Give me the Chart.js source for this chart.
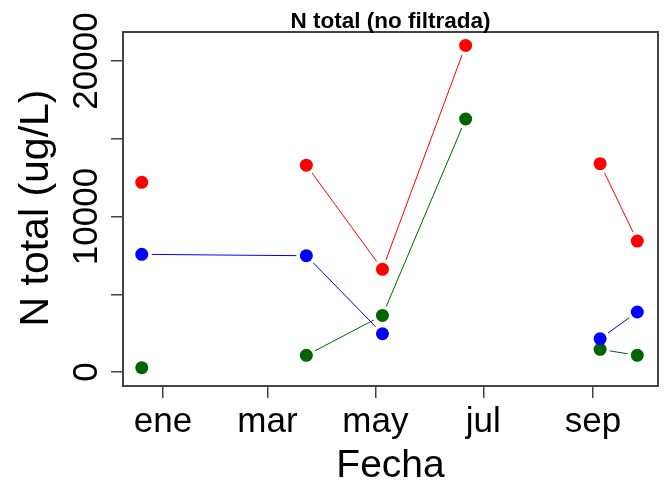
<!DOCTYPE html>
<html>
<head>
<meta charset="utf-8">
<script src="https://cdn.jsdelivr.net/npm/chart.js@4"></script>
<style>
  html,body{margin:0;padding:0;background:#fff;}
  #c{display:block;}
</style>
</head>
<body>
<canvas id="c" width="666" height="484"></canvas>
<script>
'use strict';
/* N total (no filtrada) — R base-plot look, type="b" */
const FONT = '"Liberation Sans", Arial, sans-serif';

// sampling dates as day-of-year (0 = 1 ene); index 1 and 5 are unmarked vertices / gaps
const days   = [-12, 34, 81, 124, 171, 210, 247, 268];
const marked = [true, false, true, true, true, false, true, true];
const red    = [12200, null, 13300, 6600, 21000, null, 13400, 8420];
const green  = [280, null, 1070, 3640, 16270, null, 1460, 1070];
const blue   = [7570, 7520, 7480, 2460, null, null, 2140, 3860];

// axis ticks
const monthDays   = [0, 59, 120, 181, 243];
const monthLabels = ['ene', 'mar', 'may', 'jul', 'sep'];
const yTicks      = [0, 5000, 10000, 15000, 20000];
const yLabels     = ['0', '', '10000', '', '20000'];

const xy = arr => days.map((d, i) => ({x: d, y: arr[i]}));

function lineSet(data, color, order){
  return {
    data: xy(data), order, gapOf: data,
    borderColor: color, borderWidth: 1, backgroundColor: color,
    pointRadius: 0, pointHoverRadius: 0,
    spanGaps: false, tension: 0, fill: false
  };
}
function pointSet(data, color, order){
  return {
    data: xy(data), order, showLine: false,
    borderColor: color, backgroundColor: color,
    pointBackgroundColor: color, pointBorderWidth: 0,
    pointRadius: c => marked[c.dataIndex] ? 6.5 : 0,
    pointHoverRadius: c => marked[c.dataIndex] ? 6.5 : 0
  };
}

const AX = '#444';
const GAP = 10;

// cut the line around its own markers, like R's type="b"
const gapClip = {
  id: 'gapClip',
  beforeDatasetDraw(chart, args){
    const ds = chart.data.datasets[args.index];
    if (!ds.gapOf) return;
    const g = chart.ctx, a = chart.chartArea;
    const xs = chart.scales.x, ys = chart.scales.y;
    g.save();
    g.beginPath();
    g.rect(0, 0, chart.width, chart.height);
    ds.gapOf.forEach((v, i) => {
      if (v == null || !marked[i]) return;
      const px = xs.getPixelForValue(days[i]), py = ys.getPixelForValue(v);
      g.moveTo(px + GAP, py);
      g.arc(px, py, GAP, 0, Math.PI * 2);
    });
    g.clip('evenodd');
  },
  afterDatasetDraw(chart, args){
    if (chart.data.datasets[args.index].gapOf) chart.ctx.restore();
  }
};

const rText = {
  id: 'rText',
  afterDraw(chart){
    const g = chart.ctx, a = chart.chartArea;
    const xs = chart.scales.x, ys = chart.scales.y;
    g.save();
    g.strokeStyle = AX; g.lineWidth = 2;
    g.strokeRect(a.left, a.top, a.right - a.left, a.bottom - a.top);
    g.fillStyle = '#000';
    g.font = 'bold 22.5px ' + FONT;
    g.textAlign = 'center'; g.textBaseline = 'alphabetic';
    g.fillText('N total (no filtrada)', (a.left + a.right) / 2, 28);
    g.font = '35px ' + FONT;
    monthDays.forEach((d, i) => g.fillText(monthLabels[i], xs.getPixelForValue(d), 432));
    g.font = '39px ' + FONT;
    g.fillText('Fecha', (a.left + a.right) / 2, 477);
    g.font = '35px ' + FONT;
    yTicks.forEach((v, i) => {
      if (!yLabels[i]) return;
      g.save();
      g.translate(97, ys.getPixelForValue(v));
      g.rotate(-Math.PI / 2);
      g.fillText(yLabels[i], 0, 0);
      g.restore();
    });
    g.font = '41px ' + FONT;
    g.save();
    g.translate(48, 208);
    g.rotate(-Math.PI / 2);
    g.fillText('N total (ug/L)', 0, 0);
    g.restore();
    g.restore();
  }
};

new Chart(document.getElementById('c'), {
  type: 'line',
  data: {datasets: [
    lineSet(red, '#ff0000', 5),   pointSet(red, '#ff0000', 4),
    lineSet(green, '#006400', 3), pointSet(green, '#006400', 2),
    lineSet(blue, '#0000ff', 1),  pointSet(blue, '#0000ff', 0)
  ]},
  options: {
    responsive: false, animation: false, devicePixelRatio: 1,
    layout: {padding: {top: 32, right: 8, left: 0, bottom: 0}},
    plugins: {legend: {display: false}, title: {display: false}, tooltip: {enabled: false}},
    scales: {
      x: {
        type: 'linear', position: 'bottom', min: -22.6, max: 279.7,
        afterBuildTicks: s => { s.ticks = monthDays.map(v => ({value: v})); },
        afterFit: s => { s.height = 98; },
        ticks: {display: false},
        grid: {drawOnChartArea: false, drawTicks: true, tickLength: 12, color: AX, lineWidth: 1.5},
        border: {display: false}
      },
      y: {
        type: 'linear', min: -900, max: 21865,
        afterBuildTicks: s => { s.ticks = yTicks.map(v => ({value: v})); },
        afterFit: s => { s.width = 123; },
        ticks: {display: false},
        grid: {drawOnChartArea: false, drawTicks: true, tickLength: 12, color: AX, lineWidth: 1.5},
        border: {display: false}
      }
    }
  },
  plugins: [gapClip, rText]
});
</script>
</body>
</html>
